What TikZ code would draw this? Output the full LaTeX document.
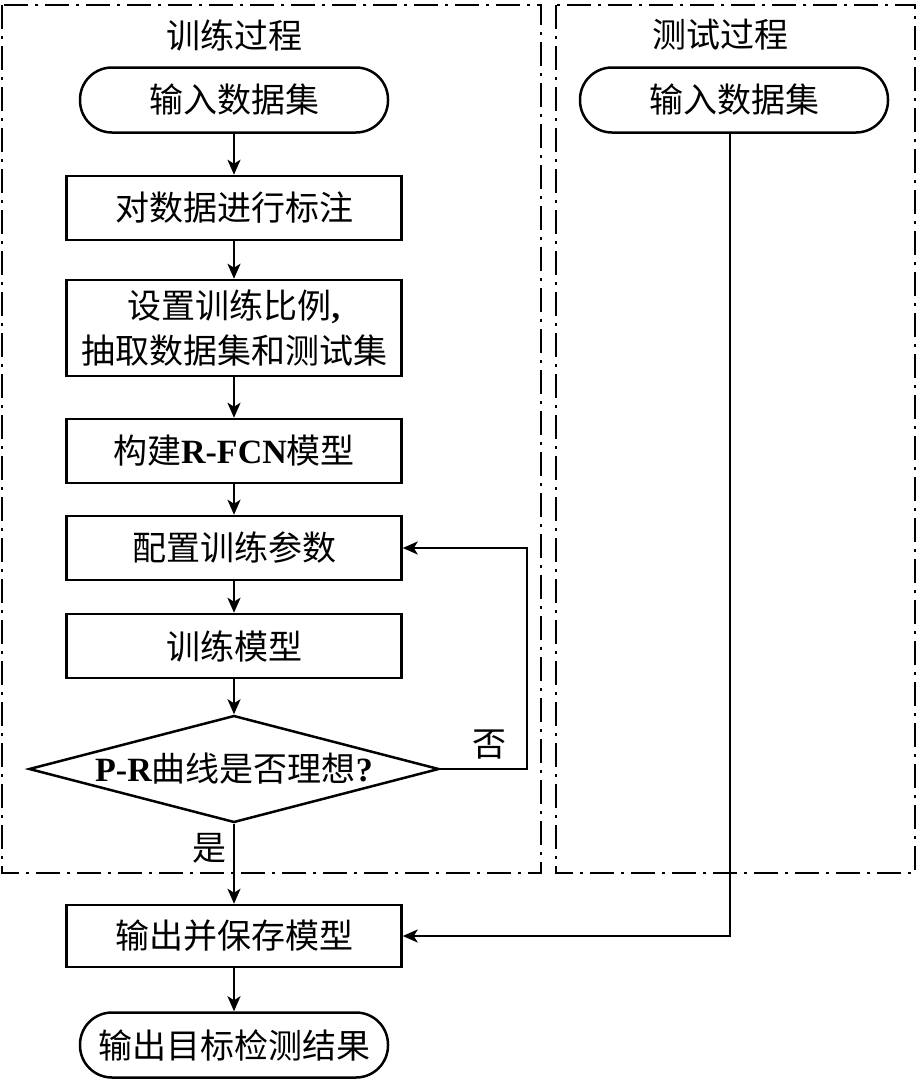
\documentclass[tikz,border=0pt]{standalone}
\usepackage{fontspec}
\setmainfont{Noto Sans CJK SC}
\newfontfamily\lat{Liberation Serif}
\usetikzlibrary{arrows.meta,shapes.geometric}
\begin{document}
\begin{tikzpicture}[
    x=1pt, y=-1pt,
    every node/.style={font=\fontsize{34}{45}\selectfont},
    frame/.style={line width=2pt, dash pattern=on 24pt off 7pt on 3pt off 7pt},
    stepbox/.style={draw, line width=2.5pt, minimum width=335pt, minimum height=64pt, inner sep=0pt},
    term/.style={draw, line width=2.5pt, rounded corners=32pt, minimum width=308pt, minimum height=65pt, inner sep=0pt},
    judge/.style={draw, diamond, aspect=3.8, line width=2.5pt, minimum width=410pt, minimum height=107pt, inner sep=0pt},
    arr/.style={-{Stealth[length=15pt,width=13pt,inset=4pt]}, line width=2.5pt},
  ]
    \useasboundingbox (0,0) rectangle (918,1082);
    %% Frames
    \draw[frame] (2,5) rectangle (541,873);
    \draw[frame] (556,5) rectangle (915,873);
    \node (ttrain) at (234,35) {训练过程};
    \node (ttest) at (720,35) {测试过程};
    %% Training branch
    \node[term] (in1) at (234,100) {输入数据集};
    \node[stepbox] (label) at (234,208) {对数据进行标注};
    \node[stepbox, minimum height=96pt, align=center] (split) at (234,328) {设置训练比例{\lat\bfseries ,}\\抽取数据集和测试集};
    \node[stepbox] (build) at (234,451) {构建{\lat\bfseries R-FCN}模型};
    \node[stepbox] (param) at (234,548) {配置训练参数};
    \node[stepbox] (train) at (234,646) {训练模型};
    \node[judge] (judge) at (234,769) {{\lat\bfseries P-R}曲线是否理想{\lat\bfseries ?}};
    \node[stepbox, minimum height=62pt] (save) at (234,936) {输出并保存模型};
    \node[term] (out) at (234,1045) {输出目标检测结果};
    %% Test branch
    \node[term] (in2) at (734,100) {输入数据集};
    %% Connectors
    \draw[arr] (in1) -- (label);
    \draw[arr] (label) -- (split);
    \draw[arr] (split) -- (build);
    \draw[arr] (build) -- (param);
    \draw[arr] (param) -- (train);
    \draw[arr] (train) -- (judge);
    \draw[arr] (judge) -- (save);
    \draw[arr] (save) -- (out);
    \coordinate (loop) at (527,769);
    \draw[arr] (judge.east) -- (loop) |- (param.east);
    \coordinate (drop) at (730,133);
    \draw[arr] (drop) |- (save.east);
    %% Branch labels
    \node (no) at (489,745) {否};
    \node (yes) at (209,848) {是};
  \end{tikzpicture}
\end{document}
